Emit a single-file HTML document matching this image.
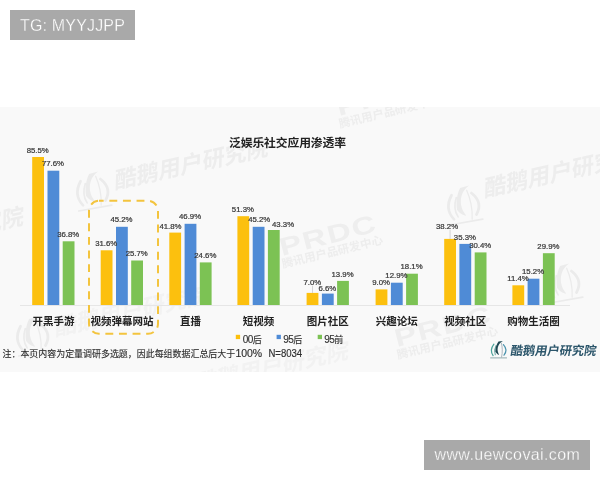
<!DOCTYPE html>
<html><head><meta charset="utf-8"><style>
html,body{margin:0;padding:0;background:#fff;}
body{width:600px;height:480px;position:relative;overflow:hidden;font-family:"Liberation Sans","Noto Sans CJK SC",sans-serif;}
.tg{position:absolute;left:10px;top:10px;width:125px;height:30px;background:#a9a9a9;color:#fff;font-size:16px;line-height:31px;text-indent:10px;letter-spacing:0.17px;white-space:nowrap;-webkit-text-stroke:0.28px #a9a9a9;}
.url{position:absolute;left:424px;top:440px;width:166px;height:30px;background:#a9a9a9;color:#fff;font-size:16px;line-height:30.6px;text-indent:10.5px;letter-spacing:0.38px;white-space:nowrap;-webkit-text-stroke:0.28px #a9a9a9;}
svg{position:absolute;left:0;top:0;}
.cat{font-size:10.5px;font-weight:bold;fill:#222;}
.val{font-size:7.8px;fill:#383838;stroke:#383838;stroke-width:0.22px;}
.leg{font-size:9px;fill:#333;stroke:#333;stroke-width:0.15px;}
.wm{font-size:22.5px;font-weight:bold;font-style:italic;fill:#ededed;}
.wm3{font-size:25px;font-weight:bold;fill:#eeeeee;letter-spacing:1.2px;}
.wm2{font-size:11.5px;font-weight:bold;fill:#ededed;}
</style></head><body>
<svg width="600" height="480" viewBox="0 0 600 480" font-family='"Liberation Sans","Noto Sans CJK SC",sans-serif'>
<rect x="0" y="107" width="600" height="265" fill="#f9f9f9"/>
<defs>
<g id="pg" fill="none" stroke-linecap="round" transform="rotate(-10 8 9)">
<path d="M3.9 4.1 Q-0.7 10 3.1 15.6" stroke-width="1.3"/>
<path d="M5.9 5.6 Q3.4 10.5 5.2 14.8" stroke-width="0.8"/>
<path d="M13.4 4.7 Q18.2 10 14 15.2" stroke-width="1.3"/>
<path d="M11.4 3 C12.4 7 12.7 12 11.6 17" stroke-width="0.6"/>
<path d="M12.9 1 L8.5 1.4 C6.5 4 5.3 8 5.3 11.5 C6 13 7.5 14.5 9.1 14.9 C7.6 12 7.3 10 7.8 7.5 C8.5 4.5 10 2.5 12.9 1 Z" fill="#ebebeb" stroke="none"/>
<path d="M0.6 17.9 L16.6 17.9" stroke-width="0.8"/>
</g>
</defs>
<clipPath id="cp"><rect x="0" y="107" width="600" height="265"/></clipPath>
<g clip-path="url(#cp)">
<g class="wm">
<text transform="translate(114.6,189) rotate(-12.5)">酷鹅用户研究院</text>
<text transform="translate(484,197) rotate(-12.5)">酷鹅用户研究院</text>
<text transform="translate(-130,258) rotate(-12.5)">酷鹅用户研究院</text>
</g>
<g class="wm" style="fill:#f2f2f2">
<text transform="translate(55,336) rotate(-12.5)">酷鹅用户研究院</text>
<text transform="translate(195,392) rotate(-12.5)">酷鹅用户研究院</text>
</g>
<g stroke="#ebebeb">
<use href="#pg" transform="translate(74,171) scale(2.1)"/>
<use href="#pg" transform="translate(445,185) scale(2.1)"/>
<use href="#pg" transform="translate(545,263) scale(2.1)"/>
<use href="#pg" transform="translate(14,316) scale(2.1)"/>
</g>
<g class="wm3"><text transform="translate(282,256) rotate(-14.5) scale(1.32,1)">PRDC</text><text transform="translate(397,347) rotate(-14.5) scale(1.32,1)">PRDC</text><text transform="translate(339,116) rotate(-14.5) scale(1.32,1)">PRDC</text></g>
<g class="wm2"><text transform="translate(283,268) rotate(-13.7)">腾讯用户品研发中心</text><text transform="translate(398,359) rotate(-13.7)">腾讯用户品研发中心</text><text transform="translate(340,128) rotate(-13.7)">腾讯用户品研发中心</text></g>
</g>
<line x1="20" y1="305.5" x2="570" y2="305.5" stroke="#e6e6e6" stroke-width="1"/>
<rect x="89" y="200.8" width="69" height="133" rx="10" ry="10" fill="none" stroke="#f3c43e" stroke-width="2" stroke-dasharray="7.9 5.7" stroke-dashoffset="3.25"/>
<rect x="32.2" y="157.0" width="11.8" height="148.0" fill="#fcc00e"/>
<rect x="47.5" y="170.7" width="11.8" height="134.3" fill="#4f8bd6"/>
<rect x="62.7" y="241.3" width="11.8" height="63.7" fill="#7cc254"/>
<text x="53.4" y="325" text-anchor="middle" class="cat">开黑手游</text>
<rect x="100.7" y="250.3" width="11.8" height="54.7" fill="#fcc00e"/>
<rect x="116.0" y="226.8" width="11.8" height="78.2" fill="#4f8bd6"/>
<rect x="131.2" y="260.5" width="11.8" height="44.5" fill="#7cc254"/>
<text x="121.9" y="325" text-anchor="middle" class="cat">视频弹幕网站</text>
<rect x="169.3" y="232.6" width="11.8" height="72.4" fill="#fcc00e"/>
<rect x="184.6" y="223.8" width="11.8" height="81.2" fill="#4f8bd6"/>
<rect x="199.8" y="262.4" width="11.8" height="42.6" fill="#7cc254"/>
<text x="190.5" y="325" text-anchor="middle" class="cat">直播</text>
<rect x="237.4" y="216.2" width="11.8" height="88.8" fill="#fcc00e"/>
<rect x="252.7" y="226.8" width="11.8" height="78.2" fill="#4f8bd6"/>
<rect x="267.9" y="230.0" width="11.8" height="75.0" fill="#7cc254"/>
<text x="258.6" y="325" text-anchor="middle" class="cat">短视频</text>
<rect x="306.6" y="292.9" width="11.8" height="12.1" fill="#fcc00e"/>
<rect x="321.9" y="293.6" width="11.8" height="11.4" fill="#4f8bd6"/>
<rect x="337.1" y="280.9" width="11.8" height="24.1" fill="#7cc254"/>
<text x="327.8" y="325" text-anchor="middle" class="cat">图片社区</text>
<rect x="375.6" y="289.4" width="11.8" height="15.6" fill="#fcc00e"/>
<rect x="390.9" y="282.7" width="11.8" height="22.3" fill="#4f8bd6"/>
<rect x="406.1" y="273.7" width="11.8" height="31.3" fill="#7cc254"/>
<text x="396.8" y="325" text-anchor="middle" class="cat">兴趣论坛</text>
<rect x="444.2" y="238.9" width="11.8" height="66.1" fill="#fcc00e"/>
<rect x="459.4" y="243.9" width="11.8" height="61.1" fill="#4f8bd6"/>
<rect x="474.7" y="252.4" width="11.8" height="52.6" fill="#7cc254"/>
<text x="465.3" y="325" text-anchor="middle" class="cat">视频社区</text>
<rect x="512.4" y="285.3" width="11.8" height="19.7" fill="#fcc00e"/>
<rect x="527.6" y="278.7" width="11.8" height="26.3" fill="#4f8bd6"/>
<rect x="542.9" y="253.2" width="11.8" height="51.8" fill="#7cc254"/>
<text x="533.5" y="325" text-anchor="middle" class="cat">购物生活圈</text>
<text x="37.7" y="152.6" text-anchor="middle" class="val">85.5%</text>
<text x="53.0" y="166.3" text-anchor="middle" class="val">77.6%</text>
<text x="68.2" y="236.9" text-anchor="middle" class="val">36.8%</text>
<text x="106.2" y="245.9" text-anchor="middle" class="val">31.6%</text>
<text x="121.5" y="222.4" text-anchor="middle" class="val">45.2%</text>
<text x="136.7" y="256.1" text-anchor="middle" class="val">25.7%</text>
<text x="170.5" y="228.8" text-anchor="middle" class="val">41.8%</text>
<text x="190.1" y="219.4" text-anchor="middle" class="val">46.9%</text>
<text x="205.3" y="258.0" text-anchor="middle" class="val">24.6%</text>
<text x="242.9" y="211.8" text-anchor="middle" class="val">51.3%</text>
<text x="259.2" y="221.5" text-anchor="middle" class="val">45.2%</text>
<text x="283.1" y="227.3" text-anchor="middle" class="val">43.3%</text>
<line x1="312.5" y1="285.7" x2="312.5" y2="292.9" stroke="#bbb" stroke-width="0.6"/>
<text x="312.3" y="284.7" text-anchor="middle" class="val">7.0%</text>
<text x="327.4" y="290.8" text-anchor="middle" class="val">6.6%</text>
<text x="342.6" y="276.5" text-anchor="middle" class="val">13.9%</text>
<text x="381.1" y="285.0" text-anchor="middle" class="val">9.0%</text>
<text x="396.4" y="278.3" text-anchor="middle" class="val">12.9%</text>
<text x="411.6" y="269.3" text-anchor="middle" class="val">18.1%</text>
<line x1="450.1" y1="229.8" x2="450.1" y2="238.9" stroke="#bbb" stroke-width="0.6"/>
<text x="447.1" y="228.8" text-anchor="middle" class="val">38.2%</text>
<text x="464.9" y="239.5" text-anchor="middle" class="val">35.3%</text>
<text x="480.2" y="248.0" text-anchor="middle" class="val">30.4%</text>
<text x="517.9" y="280.9" text-anchor="middle" class="val">11.4%</text>
<text x="533.1" y="274.3" text-anchor="middle" class="val">15.2%</text>
<text x="548.4" y="248.8" text-anchor="middle" class="val">29.9%</text>
<text x="229" y="146.5" font-size="11.8" font-weight="bold" fill="#222" textLength="117">泛娱乐社交应用渗透率</text>
<rect x="235.8" y="334.8" width="4.3" height="4.3" fill="#fcc00e"/><text x="242.8" y="342.6" class="leg" textLength="19"><tspan font-size="10">00</tspan>后</text>
<rect x="276.6" y="334.8" width="4.3" height="4.3" fill="#4f8bd6"/><text x="283.2" y="342.6" class="leg" textLength="19"><tspan font-size="10">95</tspan>后</text>
<rect x="317.7" y="334.8" width="4.3" height="4.3" fill="#7cc254"/><text x="324.2" y="342.6" class="leg" textLength="19"><tspan font-size="10">95</tspan>前</text>
<text x="2.5" y="356.6" font-size="9.1" fill="#2e2e2e" stroke="#2e2e2e" stroke-width="0.12" textLength="232.7" lengthAdjust="spacingAndGlyphs">注：本页内容为定量调研多选题，因此每组数据汇总后大于</text>
<text x="235.4" y="356.5" font-size="10" fill="#2e2e2e" stroke="#2e2e2e" stroke-width="0.15" textLength="26.8" lengthAdjust="spacingAndGlyphs">100%</text>
<text x="268.4" y="356.5" font-size="10" fill="#2e2e2e" stroke="#2e2e2e" stroke-width="0.15" textLength="33.8" lengthAdjust="spacingAndGlyphs">N=8034</text>
<g fill="none" stroke-linecap="round">
<path d="M493.9 344.1 Q489.3 350 493.1 355.6" stroke="#4ba39a" stroke-width="1.2"/>
<path d="M495.9 345.6 Q493.4 350.5 495.2 354.8" stroke="#3f8f8c" stroke-width="0.8"/>
<path d="M503.4 344.7 Q508.2 350 504 355.2" stroke="#4a93ad" stroke-width="1.2"/>
<path d="M501.4 343 C502.4 347 502.7 352 501.6 357" stroke="#8a9aa4" stroke-width="0.7"/>
<path d="M502.9 341 L498.5 341.4 C496.5 344 495.3 348 495.3 351.5 C496 353 497.5 354.5 499.1 354.9 C497.6 352 497.3 350 497.8 347.5 C498.5 344.5 500 342.5 502.9 341 Z" fill="#1f4853" stroke="none"/>
<path d="M490.6 357.9 L506.6 357.9" stroke="#86a2a6" stroke-width="0.9"/>
</g>
<text x="0" y="0" transform="translate(509.9,354.6) skewX(-9)" font-size="12.3" font-weight="bold" fill="#2c566b" textLength="86">酷鹅用户研究院</text>
</svg>
<div class="tg">TG: MYYJJPP</div>
<div class="url">www.uewcovai.com</div>
</body></html>
